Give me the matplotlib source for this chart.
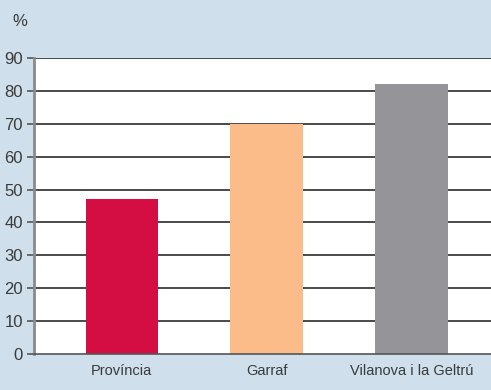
import matplotlib
matplotlib.use("Agg")
import matplotlib.pyplot as plt

categories = ["Província", "Garraf", "Vilanova i la Geltrú"]
values = [47, 70, 82]
colors = ["#d40d42", "#fbbc8a", "#959599"]
yticks = [0, 10, 20, 30, 40, 50, 60, 70, 80, 90]

bg = "#cfe0ec"
text_color = "#3a3a3a"

plt.rcParams["font.family"] = ["Liberation Sans", "DejaVu Sans"]

fig = plt.figure(figsize=(4.91, 3.90), dpi=100, facecolor=bg)
ax = fig.add_axes([34 / 491, 36 / 390, 1 - 34 / 491, 296 / 390])
ax.set_facecolor("white")

x = range(len(categories))
ax.bar(x, values, width=0.5, color=colors, zorder=3)

ax.set_ylim(0, 90)
ax.set_xlim(-0.607, 2.55)
ax.set_yticks(yticks)
ax.set_yticklabels([str(t) for t in yticks], fontsize=12, color=text_color)
ax.set_xticks(list(x))
ax.set_xticklabels(categories, fontsize=10.5, color=text_color)

for t in yticks[1:]:
    ax.axhline(t, color="#2b2b2b", lw=1.2, zorder=1)

for s in ["top", "right"]:
    ax.spines[s].set_visible(False)
ax.spines["left"].set_color("#8a8a8a")
ax.spines["left"].set_linewidth(2)
ax.spines["bottom"].set_color("#555555")
ax.spines["bottom"].set_linewidth(1.2)
ax.spines["bottom"].set_zorder(4)

ax.tick_params(axis="y", length=5, width=1.2, color="#555555", pad=3)
ax.tick_params(axis="x", length=0, pad=7)

fig.text(12 / 491, 1 - 22 / 390, "%", fontsize=12, color=text_color, va="center", ha="left")

fig.savefig("out.png", dpi=100, facecolor=bg)
